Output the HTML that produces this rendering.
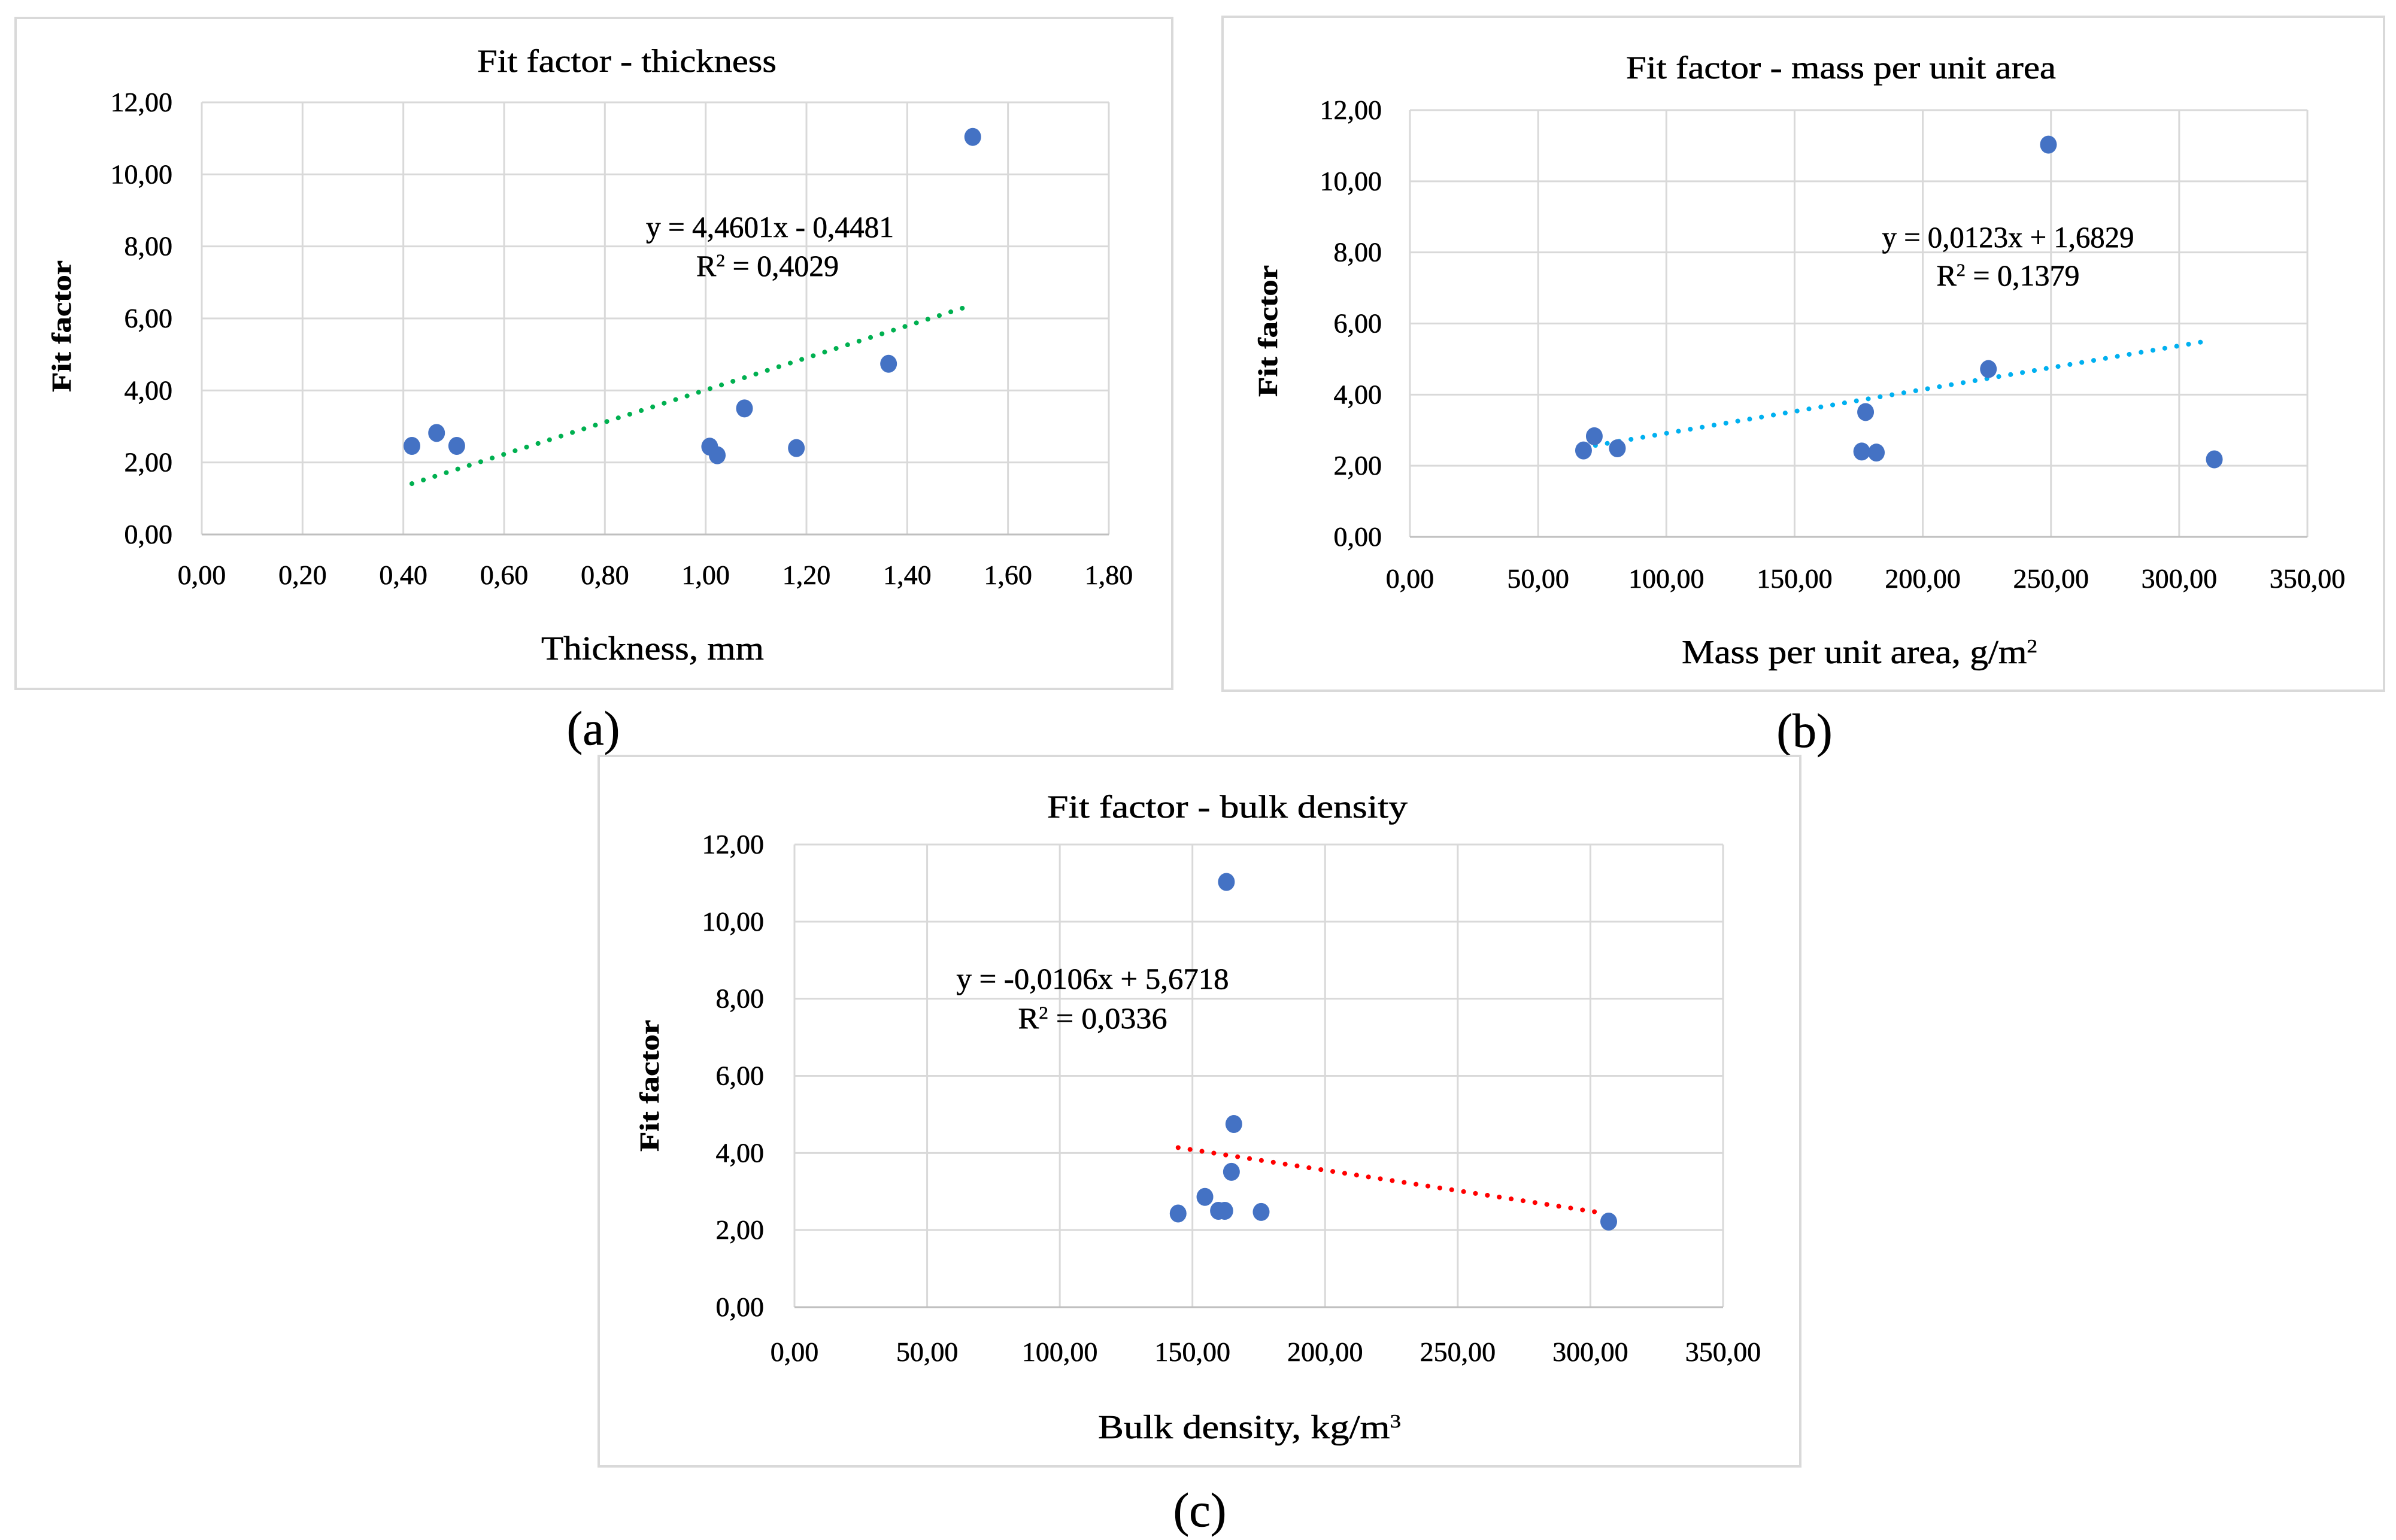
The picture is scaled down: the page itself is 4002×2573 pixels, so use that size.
<!DOCTYPE html>
<html><head><meta charset="utf-8"><style>
html,body{margin:0;padding:0;background:#fff;}
svg{display:block;font-family:"Liberation Serif",serif;}
svg text{stroke:#000;stroke-width:0.6;}
</style></head><body>
<svg id="fig" width="4002" height="2573" viewBox="0 0 4002 2573" xmlns="http://www.w3.org/2000/svg"></svg>
<script>
// Chart (a) data
const aX = [0.417, 0.466, 0.506, 1.008, 1.023, 1.077, 1.180, 1.363, 1.530];
const aY = [2.46, 2.82, 2.46, 2.44, 2.20, 3.50, 2.40, 4.74, 11.04];
const aXTicks = ["0,00","0,20","0,40","0,60","0,80","1,00","1,20","1,40","1,60","1,80"];
const aTrend = [4.4601, -0.4481];
const aTrendRange = [0.417, 1.518];
// Chart (b) data
const bX = [67.7, 71.9, 80.9, 176.2, 177.7, 181.9, 225.6, 249.0, 313.7];
const bY = [2.43, 2.83, 2.49, 2.40, 3.51, 2.37, 4.72, 11.03, 2.18];
const bXTicks = ["0,00","50,00","100,00","150,00","200,00","250,00","300,00","350,00"];
const bTrend = [0.0123, 1.6829];
const bTrendRange = [67.7, 311.9];
// Chart (c) data
const cX = [144.6, 154.7, 159.8, 162.2, 162.8, 164.7, 165.6, 175.9, 306.9];
const cY = [2.43, 2.86, 2.50, 2.50, 11.03, 3.51, 4.75, 2.47, 2.22];
const cXTicks = ["0,00","50,00","100,00","150,00","200,00","250,00","300,00","350,00"];
const cTrend = [-0.0106, 5.6718];
const cTrendRange = [144.6, 304.5];
const yTicks = ["0,00","2,00","4,00","6,00","8,00","10,00","12,00"];

const NS = "http://www.w3.org/2000/svg";
const svg = document.getElementById("fig");
function mk(tag, attrs, parent) {
  const e = document.createElementNS(NS, tag);
  for (const k in attrs) e.setAttribute(k, attrs[k]);
  (parent || svg).appendChild(e);
  return e;
}
function txt(s, attrs, parent) { const e = mk("text", attrs, parent); e.textContent = s; return e; }

function chart(cfg) {
  const g = mk("g", {});
  
  
  const fr = mk("rect", {x: cfg.frame[0], y: cfg.frame[1], width: cfg.frame[2]-cfg.frame[0], height: cfg.frame[3]-cfg.frame[1], fill: "#fff", stroke: "#d9d9d9", "stroke-width": 4}, g);
  
  
  const [L, T, R, B] = cfg.plot;
  const xs = v => L + (v - 0) / cfg.xMax * (R - L);
  const ys = v => B - v / 12 * (B - T);
  const grid = mk("g", {}, g);
  
  
  const nx = cfg.xTicks.length;
  cfg.xTicks.forEach((t, i) => {
    const v = cfg.xMax * i / (nx - 1);
    const x = xs(v);
    mk("line", {x1: x, y1: T, x2: x, y2: B, stroke: "#d9d9d9", "stroke-width": 3}, grid);
    const lab = txt(t, {x: x, y: cfg.xLabY, "text-anchor": "middle", "font-size": 46, fill: "#000"}, g);
    
    
  });
  yTicks.forEach((t, i) => {
    const y = ys(i * 2);
    mk("line", {x1: L, y1: y, x2: R, y2: y, stroke: i === 0 ? "#bfbfbf" : "#d9d9d9", "stroke-width": 3}, grid);
    const lab = txt(t, {x: cfg.yLabX, y: y + 15, "text-anchor": "end", "font-size": 46, fill: "#000"}, g);
    
    
  });
  const [m, c] = cfg.trend;
  const tl = mk("line", {x1: xs(cfg.tr[0]), y1: ys(m*cfg.tr[0]+c), x2: xs(cfg.tr[1]), y2: ys(m*cfg.tr[1]+c), stroke: cfg.tcol, "stroke-width": 8, "stroke-dasharray": "0.1 20", "stroke-linecap": "round"}, g);
  
  
  cfg.xs.forEach((v, i) => {
    const p = mk("ellipse", {cx: xs(v), cy: ys(cfg.ys[i]), rx: 14, ry: 15, fill: "#4472c4"}, g);
    
    
  });
  const t = txt(cfg.title, {x: cfg.titlePos[0], y: cfg.titlePos[1], "text-anchor": "middle", "font-size": 54, textLength: cfg.titlePos[2], lengthAdjust: "spacingAndGlyphs"}, g);
  
  
  const e1 = txt(cfg.eq, {x: cfg.eqPos[0], y: cfg.eqPos[1], "text-anchor": "middle", "font-size": 50, textLength: cfg.eqPos[2], lengthAdjust: "spacingAndGlyphs"}, g);
  
  
  const e2 = mk("text", {x: cfg.r2Pos[0], y: cfg.r2Pos[1], "text-anchor": "middle", "font-size": 50, textLength: cfg.r2Pos[2], lengthAdjust: "spacingAndGlyphs"}, g);
  e2.innerHTML = 'R<tspan font-size="30" dy="-16">2</tspan><tspan dy="16"> = ' + cfg.r2 + '</tspan>';
  
  
  const xt = mk("text", {x: cfg.xTitlePos[0], y: cfg.xTitlePos[1], "text-anchor": "middle", "font-size": 56, textLength: cfg.xTitlePos[2], lengthAdjust: "spacingAndGlyphs"}, g);
  xt.innerHTML = cfg.xTitle;
  
  
  const yt = txt("Fit factor", {x: 0, y: 0, "text-anchor": "middle", "font-size": 46, "font-weight": "bold", transform: `translate(${cfg.yTitlePos[0]},${cfg.yTitlePos[1]}) rotate(-90)`, textLength: 220, lengthAdjust: "spacingAndGlyphs"}, g);
  
  
  const pl = txt(cfg.panel, {x: cfg.panelPos[0], y: cfg.panelPos[1], "text-anchor": "middle", "font-size": 80}, g);
  
  
}

chart({name: "chart-thickness", frame: [26, 30, 1958, 1151], plot: [337, 171, 1852, 893], xMax: 1.8,
  xTicks: aXTicks, xs: aX, ys: aY, trend: aTrend, tr: aTrendRange, tcol: "#00b050",
  xLabY: 976, yLabX: 288, title: "Fit factor - thickness", titlePos: [1047, 120, 500],
  eq: "y = 4,4601x - 0,4481", eqPos: [1286, 396, 414], r2: "0,4029", r2Pos: [1282, 461, 238],
  xTitle: "Thickness, mm", xTitlePos: [1090, 1102, 372], yTitlePos: [118, 545], panel: "(a)", panelPos: [991, 1244]});

chart({name: "chart-mass-per-area", frame: [2042, 28, 3982, 1154], plot: [2355, 184, 3854, 897], xMax: 350,
  xTicks: bXTicks, xs: bX, ys: bY, trend: bTrend, tr: bTrendRange, tcol: "#00b0f0",
  xLabY: 982, yLabX: 2308, title: "Fit factor - mass per unit area", titlePos: [3075, 131, 718],
  eq: "y = 0,0123x + 1,6829", eqPos: [3354, 413, 421], r2: "0,1379", r2Pos: [3354, 477, 239],
  xTitle: 'Mass per unit area, g/m<tspan font-size="32" dy="-18">2</tspan>', xTitlePos: [3106, 1108, 594], yTitlePos: [2133, 553], panel: "(b)", panelPos: [3014, 1248]});

chart({name: "chart-bulk-density", frame: [1000, 1263, 3007, 2450], plot: [1327, 1411, 2878, 2184], xMax: 350,
  xTicks: cXTicks, xs: cX, ys: cY, trend: cTrend, tr: cTrendRange, tcol: "#ff0000",
  xLabY: 2274, yLabX: 1276, title: "Fit factor - bulk density", titlePos: [2050, 1366, 602],
  eq: "y = -0,0106x + 5,6718", eqPos: [1825, 1652, 455], r2: "0,0336", r2Pos: [1825, 1718, 249],
  xTitle: 'Bulk density, kg/m<tspan font-size="32" dy="-18">3</tspan>', xTitlePos: [2087, 2403, 506], yTitlePos: [1100, 1814], panel: "(c)", panelPos: [2004, 2550]});
</script>
</body></html>
